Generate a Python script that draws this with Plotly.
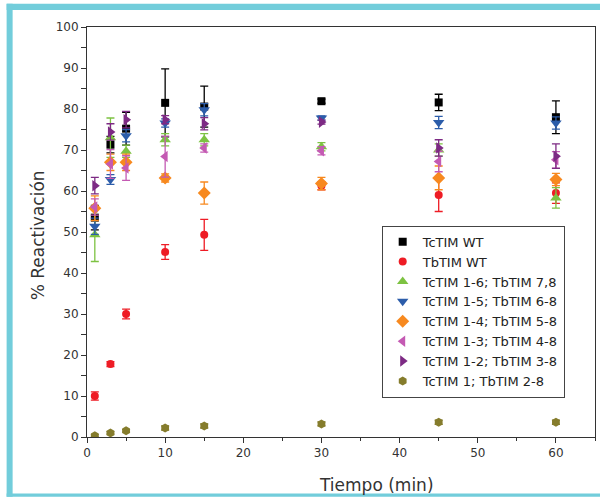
import plotly.graph_objects as go

times = [1, 3, 5, 10, 15, 30, 45, 60]

names = ["TcTIM WT", "TbTIM WT", "TcTIM 1-6; TbTIM 7,8", "TcTIM 1-5; TbTIM 6-8",
         "TcTIM 1-4; TbTIM 5-8", "TcTIM 1-3; TbTIM 4-8", "TcTIM 1-2; TbTIM 3-8",
         "TcTIM 1; TbTIM 2-8"]

tc_wt = [53.5, 71.3, 75.2, 81.5, 80.6, 81.9, 81.6, 78.0]
tc_wt_err = [3.0, 2.0, 4.0, 8.3, 5.0, 0.5, 2.0, 4.0]
tb_wt = [10.0, 17.8, 30.0, 45.1, 49.3, 61.3, 59.0, 59.5]
tb_wt_err = [1.0, 0.6, 1.2, 1.8, 3.8, 1.0, 4.0, 2.5]
m16 = [49.3, 73.0, 69.7, 72.5, 72.5, 70.8, 70.0, 58.3]
m16_err = [6.5, 4.8, 1.5, 1.5, 1.5, 1.0, 1.5, 2.5]
m15 = [51.4, 62.8, 73.5, 76.6, 79.8, 77.8, 76.7, 76.6]
m15_err = [2.0, 1.2, 1.5, 1.0, 1.5, 0.5, 1.5, 1.5]
m14 = [55.8, 67.0, 67.0, 63.2, 59.5, 61.8, 63.2, 62.8]
m14_err = [3.0, 2.0, 2.0, 1.0, 2.7, 1.5, 2.9, 1.5]
m13 = [56.1, 66.6, 65.6, 68.4, 70.5, 69.8, 67.2, 67.6]
m13_err = [2.0, 3.5, 3.0, 5.0, 1.0, 1.0, 2.5, 2.0]
m12 = [61.3, 74.4, 77.4, 77.4, 76.4, 76.8, 70.5, 68.5]
m12_err = [2.0, 2.0, 2.0, 1.0, 1.5, 0.5, 2.0, 3.0]
m1 = [0.3, 1.0, 1.5, 2.2, 2.7, 3.2, 3.6, 3.6]
m1_err = [0.3, 0.3, 0.3, 0.5, 0.5, 0.5, 0.5, 0.5]

series = [tc_wt, tb_wt, m16, m15, m14, m13, m12, m1]
errors = [tc_wt_err, tb_wt_err, m16_err, m15_err, m14_err, m13_err, m12_err, m1_err]
colors = ["#000000", "#EE1C25", "#7DC242", "#2C5DAA", "#F7891F", "#C45AB3", "#7D2A84", "#857C2C"]
symbols = ["square", "circle", "triangle-up", "triangle-down", "diamond", "triangle-left",
           "triangle-right", "hexagon"]
sizes = [8, 8, 10, 10, 10, 10, 10, 9]

fig = go.Figure()
for nm, ys, es, c, s, sz in zip(names, series, errors, colors, symbols, sizes):
    fig.add_trace(go.Scatter(
        x=times, y=ys, mode="markers", name=nm,
        marker=dict(color=c, symbol=s, size=sz, line=dict(width=0)),
        error_y=dict(type="data", array=es, visible=True, color=c, thickness=1.3, width=4),
    ))

W, H = 600, 497
L, R, T, B = 87.3, 594.8, 27.3, 437.3
pw, ph = R - L, B - T

def px(x):
    return (x - L) / pw

def py(y):
    return (B - y) / ph

teal = "#72CDDB"
shapes = [
    dict(type="rect", xref="paper", yref="paper", x0=px(7), x1=px(600), y0=py(10.3), y1=py(4),
         fillcolor=teal, line=dict(width=0)),
    dict(type="rect", xref="paper", yref="paper", x0=px(7), x1=px(13), y0=py(497), y1=py(4),
         fillcolor=teal, line=dict(width=0)),
    dict(type="rect", xref="paper", yref="paper", x0=px(7), x1=px(600), y0=py(497), y1=py(493.7),
         fillcolor=teal, line=dict(width=0)),
]

font = "DejaVu Sans"
axis_common = dict(showline=True, linecolor="#333333", linewidth=1, mirror=True,
                   showgrid=False, zeroline=False, ticks="outside", ticklen=5,
                   tickcolor="#333333", tickfont=dict(family=font, size=12, color="#333333"))

annotations = [
    dict(text="Tiempo (min)", xref="paper", yref="paper", x=px(377), y=py(485),
         xanchor="center", yanchor="middle", showarrow=False,
         font=dict(family=font, size=17, color="#333333")),
    dict(text="% Reactivación", xref="paper", yref="paper", x=px(38), y=py(236),
         xanchor="center", yanchor="middle", showarrow=False, textangle=-90,
         font=dict(family=font, size=17, color="#333333")),
]

fig.update_layout(
    width=W, height=H,
    margin=dict(l=L, r=W - R, t=T, b=H - B),
    paper_bgcolor="white", plot_bgcolor="white",
    shapes=shapes,
    annotations=annotations,
    showlegend=True,
    legend=dict(x=px(381.7), y=py(226), xanchor="left", yanchor="top",
                bgcolor="white", bordercolor="#444444", borderwidth=1,
                font=dict(family=font, size=13, color="#222222"),
                tracegroupgap=0, itemsizing="trace"),
    xaxis=dict(range=[0, 65], dtick=10, tick0=0,
               minor=dict(dtick=5, ticks="outside", ticklen=3, tickcolor="#333333"),
               **axis_common),
    yaxis=dict(range=[0, 100], dtick=10, tick0=0,
               minor=dict(dtick=5, ticks="outside", ticklen=5, tickcolor="#333333"),
               **axis_common),
)

fig.write_html("out.html")
